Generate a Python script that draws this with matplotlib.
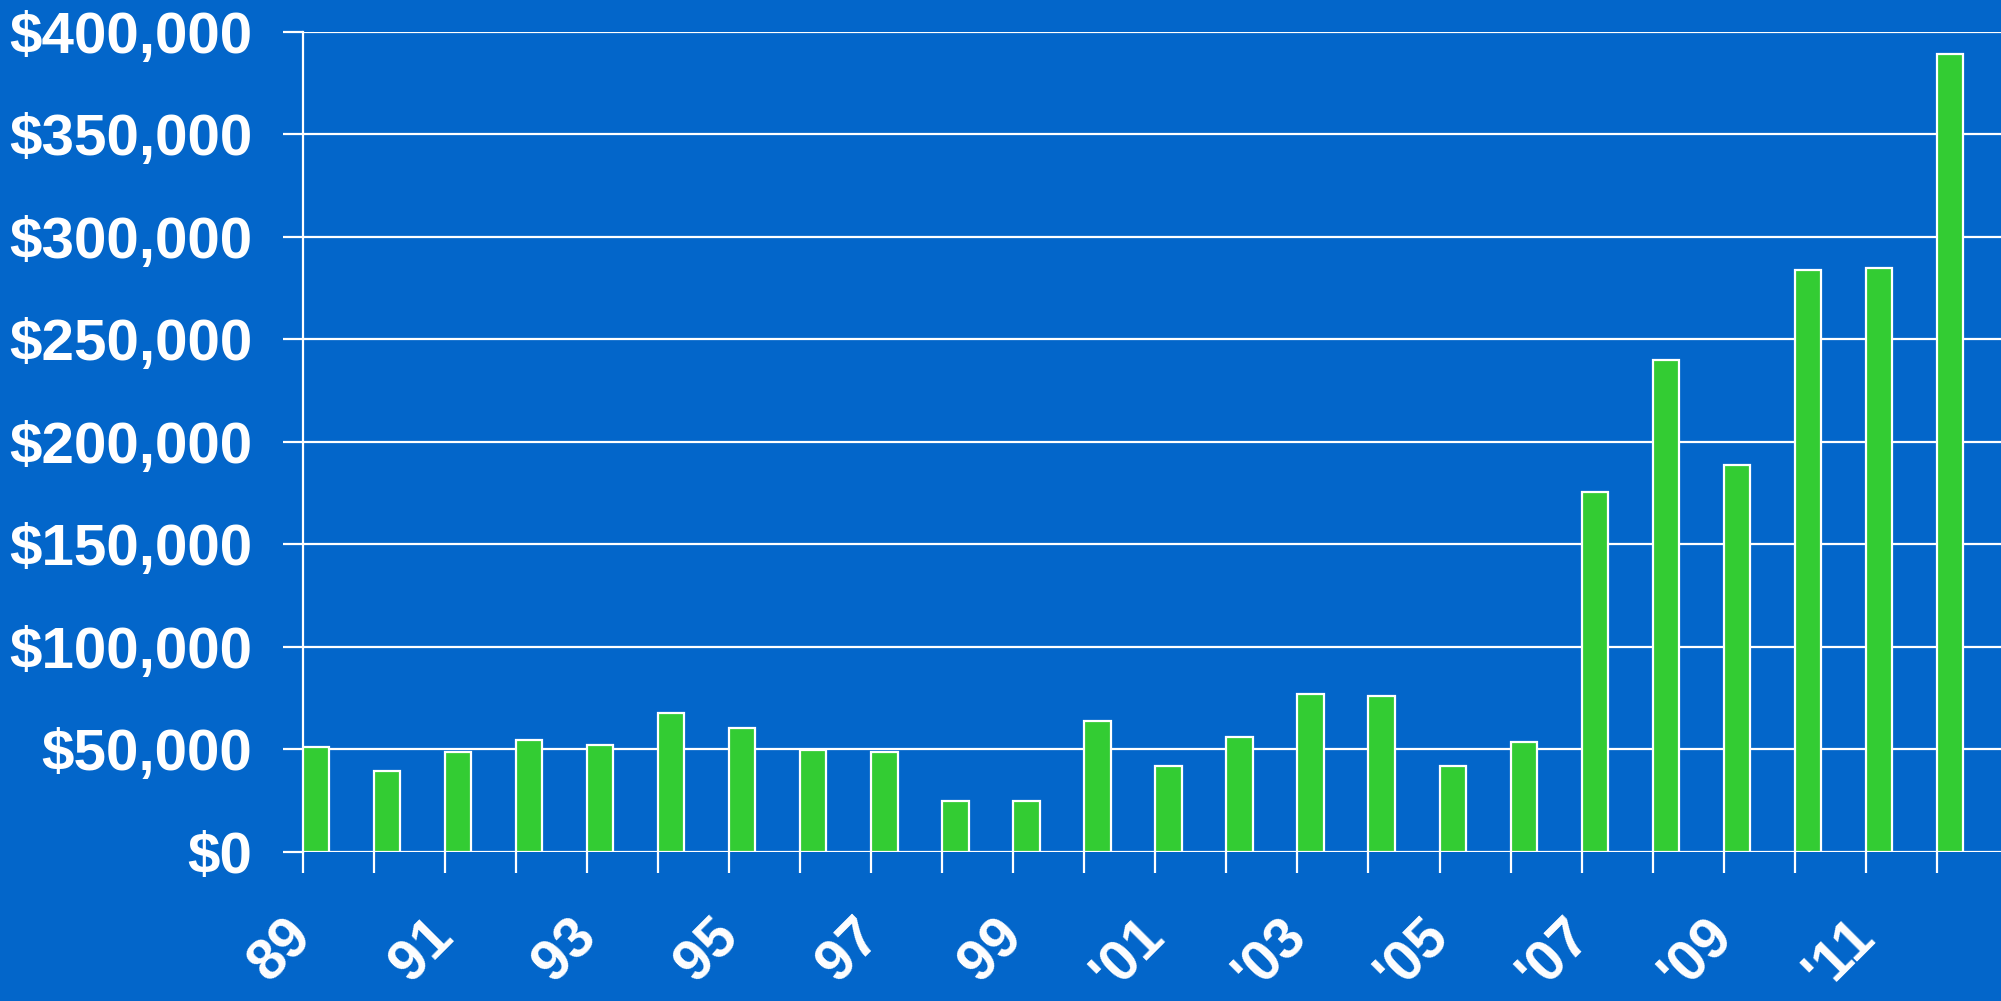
import numpy as np
import matplotlib.pyplot as plt
import matplotlib.transforms as mtransforms
from matplotlib.ticker import FuncFormatter

# valeurs
years = list(range(1989, 2013))
values = [51000, 39500, 48700, 54700, 52400, 67600, 60500, 49800, 48500, 25000,
          25000, 64000, 41700, 56000, 77000, 76000, 41700, 53500, 175500, 240000,
          188500, 284000, 285000, 389000]
tick_labels = ["89", "", "91", "", "93", "", "95", "", "97", "", "99", "",
               "'01", "", "'03", "", "'05", "", "'07", "", "'09", "", "'11", ""]

bg = "#0366CA"
green = "#33CC33"

plt.rcParams['font.family'] = ['Liberation Sans', 'DejaVu Sans']

fig = plt.figure(figsize=(20.01, 10.01), dpi=100, facecolor=bg)
ax = fig.add_axes([0.1514, 0.1489, 0.852, 0.8194], facecolor=bg)

x = np.arange(len(years))
ax.bar(x, values, width=0.37, align='edge', color=green,
       edgecolor='white', linewidth=1.6, zorder=3)

ax.set_xlim(0, len(years))
ax.set_ylim(0, 400000)
ax.set_yticks(np.arange(0, 400001, 50000))
ax.yaxis.set_major_formatter(FuncFormatter(lambda v, p: "${:,.0f}".format(v)))
ax.grid(axis='y', color='white', linewidth=1.6, zorder=1)

ax.set_xticks(x)
ax.set_xticklabels(tick_labels, rotation=45, ha='right')

for s in ['top', 'right', 'bottom']:
    ax.spines[s].set_visible(False)
ax.spines['left'].set_color('white')
ax.spines['left'].set_linewidth(1.6)

ax.tick_params(axis='y', colors='white', length=14.5, width=1.6, pad=22,
               labelsize=42)
ax.tick_params(axis='x', colors='white', length=15, width=1.6, pad=26,
               labelsize=41)
shift = mtransforms.ScaledTranslation(14 / 72, 0, fig.dpi_scale_trans)
for lab in ax.get_xticklabels():
    lab.set_fontweight('bold')
    lab.set_transform(lab.get_transform() + shift)
for lab in ax.get_yticklabels():
    lab.set_fontweight('bold')

plt.savefig("out.png", dpi=100, facecolor=bg)
